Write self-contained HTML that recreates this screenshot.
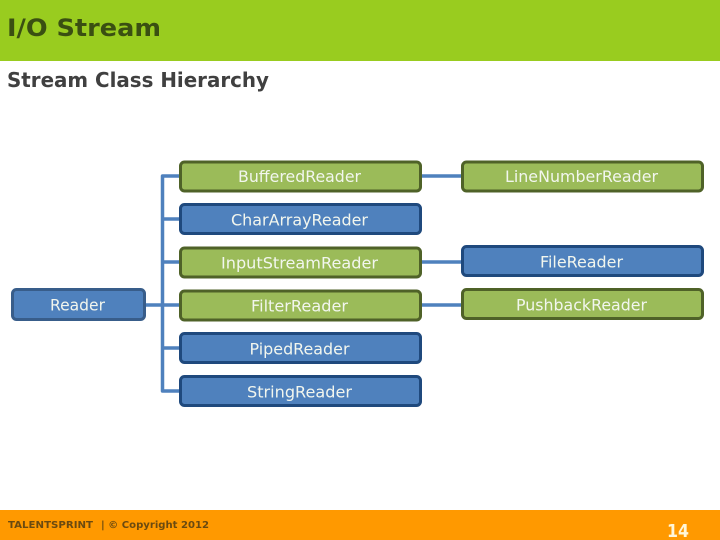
<!DOCTYPE html>
<html><head><meta charset="utf-8"><style>
html,body{margin:0;padding:0;background:#fff}
svg{display:block}
text{font-family:"DejaVu Sans","Liberation Sans",sans-serif}
.n{font-size:16px;fill:#f2f6ee;text-anchor:middle}
.g{fill:#9bbb59;stroke:#4f6228;stroke-width:3}
.b{fill:#4f81bd;stroke:#1f497d;stroke-width:3}
.c{stroke:#4f81bd;stroke-width:3.500;fill:none;stroke-linejoin:round}
</style></head><body>
<svg width="720" height="540" viewBox="0 0 720 540" xmlns="http://www.w3.org/2000/svg">
<rect width="720" height="540" fill="#fff"/>
<rect width="720" height="61" fill="#99cc1f"/>
<rect y="510" width="720" height="30" fill="#ff9900"/>
<text x="7" y="36" font-size="24" font-weight="bold" fill="#3a4f12" textLength="154" lengthAdjust="spacingAndGlyphs">I/O Stream</text>
<text x="7" y="87" font-size="20" font-weight="bold" fill="#404040" textLength="262" lengthAdjust="spacingAndGlyphs">Stream Class Hierarchy</text>

<path class="c" d="M181 176H162.500V391H181M162.500 219H181M162.500 262H181M145 305H181M162.500 348H181M421 176H462M421 262H462M421 305H462"/>

<rect class="g" x="180.500" y="162" width="240" height="29" rx="4"/>
<rect class="b" x="180.500" y="204.500" width="240" height="29" rx="4"/>
<rect class="g" x="180.500" y="248" width="240" height="29" rx="4"/>
<rect class="g" x="180.500" y="291" width="240" height="29" rx="4"/>
<rect class="b" x="180.500" y="333.500" width="240" height="29" rx="4"/>
<rect class="b" x="180.500" y="376.500" width="240" height="29" rx="4"/>
<rect class="g" x="462.500" y="162" width="240" height="29" rx="4"/>
<rect class="b" x="462.500" y="246.500" width="240" height="29" rx="4"/>
<rect class="g" x="462.500" y="289.500" width="240" height="29" rx="4"/>
<rect x="12.500" y="289.500" width="132" height="30" rx="4" fill="#4f81bd" stroke="#385d8a" stroke-width="3"/>

<text class="n" x="299.500" y="182" textLength="123" lengthAdjust="spacingAndGlyphs">BufferedReader</text>
<text class="n" x="299.500" y="225.500" textLength="137" lengthAdjust="spacingAndGlyphs">CharArrayReader</text>
<text class="n" x="299.500" y="268.500" textLength="157" lengthAdjust="spacingAndGlyphs">InputStreamReader</text>
<text class="n" x="299.500" y="311.500" textLength="97" lengthAdjust="spacingAndGlyphs">FilterReader</text>
<text class="n" x="299.500" y="354.500" textLength="100" lengthAdjust="spacingAndGlyphs">PipedReader</text>
<text class="n" x="299.500" y="397.500" textLength="105" lengthAdjust="spacingAndGlyphs">StringReader</text>
<text class="n" x="581.500" y="182" textLength="153" lengthAdjust="spacingAndGlyphs">LineNumberReader</text>
<text class="n" x="581.500" y="267.500" textLength="83" lengthAdjust="spacingAndGlyphs">FileReader</text>
<text class="n" x="581.500" y="310.500" textLength="131" lengthAdjust="spacingAndGlyphs">PushbackReader</text>
<text class="n" x="77.500" y="310.500" textLength="55" lengthAdjust="spacingAndGlyphs">Reader</text>

<text x="8" y="528" font-size="10" font-weight="bold" fill="#6b4a10" textLength="85" lengthAdjust="spacingAndGlyphs">TALENTSPRINT</text>
<text x="101" y="528" font-size="10" font-weight="bold" fill="#6b4a10" textLength="108" lengthAdjust="spacingAndGlyphs">| © Copyright 2012</text>
<text x="667" y="537" font-size="18" font-weight="bold" fill="#fff6d8" textLength="22" lengthAdjust="spacingAndGlyphs">14</text>
</svg>
</body></html>
